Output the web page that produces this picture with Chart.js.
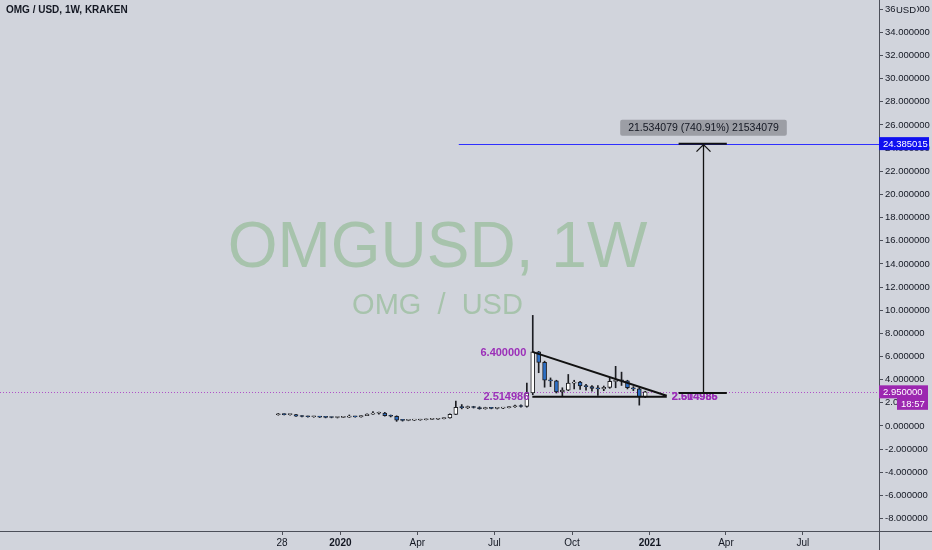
<!DOCTYPE html>
<html>
<head>
<meta charset="utf-8">
<title>OMG / USD, 1W, KRAKEN</title>
<script src="https://cdn.jsdelivr.net/npm/chart.js@4.4.1/dist/chart.umd.min.js"></script>
<style>
  html, body { margin: 0; padding: 0; background: #d1d4dc; }
  #wrap { width: 932px; height: 550px; }
</style>
</head>
<body>
<div id="wrap"><canvas id="omgChart" width="932" height="550"></canvas></div>
<script>
// weekly bars, OMG/USD on Kraken
const weeks = [
  "2019-10-21", "2019-10-28", "2019-11-04", "2019-11-11", "2019-11-18", "2019-11-25", "2019-12-02",
  "2019-12-09", "2019-12-16", "2019-12-23", "2019-12-30", "2020-01-06", "2020-01-13", "2020-01-20",
  "2020-01-27", "2020-02-03", "2020-02-10", "2020-02-17", "2020-02-24", "2020-03-02", "2020-03-09",
  "2020-03-16", "2020-03-23", "2020-03-30", "2020-04-06", "2020-04-13", "2020-04-20", "2020-04-27",
  "2020-05-04", "2020-05-11", "2020-05-18", "2020-05-25", "2020-06-01", "2020-06-08", "2020-06-15",
  "2020-06-22", "2020-06-29", "2020-07-06", "2020-07-13", "2020-07-20", "2020-07-27", "2020-08-03",
  "2020-08-10", "2020-08-17", "2020-08-24", "2020-08-31", "2020-09-07", "2020-09-14", "2020-09-21",
  "2020-09-28", "2020-10-05", "2020-10-12", "2020-10-19", "2020-10-26", "2020-11-02", "2020-11-09",
  "2020-11-16", "2020-11-23", "2020-11-30", "2020-12-07", "2020-12-14", "2020-12-21", "2020-12-28",
];
const opens = [
  0.97, 1.00, 0.98, 0.99, 0.85, 0.82, 0.80, 0.81, 0.76, 0.74, 0.73, 0.74, 0.76, 0.80,
  0.79, 0.90, 1.03, 1.10, 1.12, 0.88, 0.84, 0.50, 0.48, 0.50, 0.52, 0.54, 0.57, 0.58,
  0.63, 0.70, 1.00, 1.62, 1.58, 1.65, 1.60, 1.50, 1.54, 1.52, 1.54, 1.58, 1.66, 1.72,
  1.68, 2.85, 6.40, 5.50, 3.95, 3.90, 2.95, 3.10, 3.70, 3.80, 3.45, 3.40, 3.25, 3.20,
  3.33, 3.85, 3.95, 3.90, 3.30, 3.20, 2.50,
];
const highs = [
  1.08, 1.06, 1.03, 1.01, 0.89, 0.86, 0.84, 0.83, 0.80, 0.78, 0.76, 0.80, 0.95, 0.84,
  0.92, 1.06, 1.25, 1.20, 1.18, 0.95, 0.88, 0.56, 0.53, 0.54, 0.58, 0.60, 0.62, 0.66,
  0.72, 1.05, 2.15, 1.85, 1.72, 1.70, 1.66, 1.62, 1.60, 1.58, 1.62, 1.70, 1.80, 1.82,
  3.70, 9.55, 6.45, 5.60, 4.15, 3.95, 3.30, 4.45, 3.95, 3.85, 3.60, 3.50, 3.50, 3.45,
  4.20, 5.15, 4.65, 3.95, 3.40, 3.30, 3.00,
];
const lows = [
  0.93, 0.95, 0.93, 0.82, 0.79, 0.76, 0.75, 0.73, 0.70, 0.70, 0.69, 0.72, 0.74, 0.76,
  0.77, 0.88, 1.00, 1.02, 0.85, 0.78, 0.40, 0.42, 0.45, 0.47, 0.49, 0.52, 0.54, 0.56,
  0.60, 0.68, 0.98, 1.48, 1.50, 1.55, 1.45, 1.45, 1.48, 1.47, 1.50, 1.55, 1.60, 1.62,
  1.62, 2.70, 4.60, 3.35, 3.40, 2.85, 2.60, 3.05, 3.20, 3.15, 3.10, 3.00, 2.65, 3.05,
  3.25, 3.30, 3.50, 3.20, 3.05, 1.80, 2.45,
];
const closes = [
  1.00, 0.98, 0.99, 0.85, 0.82, 0.80, 0.81, 0.76, 0.74, 0.73, 0.74, 0.76, 0.80, 0.79,
  0.90, 1.03, 1.10, 1.12, 0.88, 0.84, 0.50, 0.48, 0.50, 0.52, 0.54, 0.57, 0.58, 0.63,
  0.70, 1.00, 1.62, 1.58, 1.65, 1.60, 1.50, 1.54, 1.52, 1.54, 1.58, 1.66, 1.72, 1.68,
  2.85, 6.40, 5.50, 3.95, 3.90, 2.95, 3.10, 3.70, 3.80, 3.45, 3.40, 3.25, 3.20, 3.33,
  3.85, 3.95, 3.90, 3.30, 3.20, 2.50, 2.95,
];

// axes (x in days from 2020-01-01)
const xMinDay = -402.6;
const xMaxDay = 637.0;
const xTickDays = [-69, 0, 91, 182, 274, 366, 456, 547];
const xTickLabels = ["28", "2020", "Apr", "Jul", "Oct", "2021", "Apr", "Jul"];
const yMin = -9.07;
const yMax = 36.79;
const yTicks = [-8, -6, -4, -2, 0, 2, 4, 6, 8, 10, 12, 14, 16, 18, 20, 22, 24, 26, 28, 30, 32, 34, 36];

// drawings
const lastPrice = 2.95;
const countdown = "18:57";
const targetPrice = 24.385015;
const targetFrom = "2020-05-20";
const triangleStart = "2020-08-15";
const triangleApex = "2021-01-21";
const triangleTop = 6.4;
const triangleBase = 2.514986;
const triangleApexTop = 2.604985;
const rangeDay = "2021-03-05";
const rangeFrom = "2021-02-04";
const rangeTo = "2021-04-02";
const rangeLow = 2.850936;
const rangeHigh = 24.385015;
const rangeText = "21.534079 (740.91%) 21534079";

const FONT = '"Liberation Sans", Arial, sans-serif';
const BG = "#d1d4dc";
const TEXT = "#131722";
const PURPLE = "#9b2fb8";

const DAY0 = Date.UTC(2020, 0, 1);
function dayOf(s) {
  return (Date.parse(s + "T00:00:00Z") - DAY0) / 86400000;
}

// bars sit a little left of the week start, as on the source chart
const xs = weeks.map((w) => dayOf(w) - 1.5);
const bodies = xs.map((x, i) => ({ x, y: [opens[i], closes[i]] }));
const wicks = xs.map((x, i) => ({ x, y: [lows[i], highs[i]] }));

function axisBox(ctx, text, x, yc, w, h, fill, font) {
  ctx.fillStyle = fill;
  ctx.fillRect(x, yc - h / 2, w, h);
  ctx.fillStyle = "#ffffff";
  ctx.font = font;
  ctx.textAlign = "left";
  ctx.textBaseline = "middle";
  ctx.fillText(text, x + 4, yc + 0.5);
}

const drawings = {
  id: "drawings",
  beforeDraw(chart) {
    const { ctx, width, height } = chart;
    ctx.save();
    ctx.fillStyle = BG;
    ctx.fillRect(0, 0, width, height);
    ctx.restore();
  },
  beforeDatasetsDraw(chart) {
    const { ctx, chartArea: a, scales } = chart;
    const cx = (a.left + a.right) / 2 - 2;
    ctx.save();
    ctx.fillStyle = "#a7c3ac";
    ctx.textAlign = "center";
    ctx.textBaseline = "middle";
    ctx.font = "64px " + FONT;
    ctx.fillText("OMGUSD, 1W", cx, a.top + 249);
    ctx.font = "29px " + FONT;
    ctx.fillText("OMG  /  USD", cx, a.top + 306);

    const py = Math.round(scales.y.getPixelForValue(lastPrice)) + 0.5;
    ctx.strokeStyle = "#b050c8";
    ctx.lineWidth = 1;
    ctx.setLineDash([1, 2]);
    ctx.beginPath();
    ctx.moveTo(a.left, py);
    ctx.lineTo(a.right, py);
    ctx.stroke();
    ctx.restore();
  },
  afterDatasetsDraw(chart) {
    const { ctx, chartArea: a, scales: { x, y } } = chart;
    ctx.save();
    ctx.beginPath();
    ctx.rect(a.left, a.top, a.right - a.left, a.bottom - a.top);
    ctx.clip();

    // descending triangle
    const tx0 = x.getPixelForValue(dayOf(triangleStart));
    const tx1 = x.getPixelForValue(dayOf(triangleApex));
    const yTop = y.getPixelForValue(triangleTop);
    const yBase = y.getPixelForValue(triangleBase);
    const yApex = y.getPixelForValue(triangleApexTop);
    ctx.strokeStyle = "#111111";
    ctx.lineWidth = 2;
    ctx.beginPath();
    ctx.moveTo(tx0, yTop);
    ctx.lineTo(tx1, yApex);
    ctx.moveTo(tx0, yBase);
    ctx.lineTo(tx1, yBase);
    ctx.stroke();

    ctx.fillStyle = PURPLE;
    ctx.font = "bold 11px " + FONT;
    ctx.textBaseline = "middle";
    ctx.textAlign = "right";
    ctx.fillText(triangleTop.toFixed(6), tx0 - 6, yTop + 1);
    ctx.fillText(triangleBase.toFixed(6), tx0 - 3, yBase);
    ctx.textAlign = "left";
    ctx.fillText(triangleBase.toFixed(6), tx1 + 5, yBase);
    ctx.fillText(triangleApexTop.toFixed(6), tx1 + 5, yBase);

    // target line
    const ty = Math.round(y.getPixelForValue(targetPrice)) + 0.5;
    ctx.strokeStyle = "#2f2fff";
    ctx.lineWidth = 1.2;
    ctx.beginPath();
    ctx.moveTo(x.getPixelForValue(dayOf(targetFrom)), ty);
    ctx.lineTo(a.right, ty);
    ctx.stroke();

    // price range tool
    const rx = Math.round(x.getPixelForValue(dayOf(rangeDay))) + 0.5;
    const rxa = x.getPixelForValue(dayOf(rangeFrom));
    const rxb = x.getPixelForValue(dayOf(rangeTo));
    const ryTop = y.getPixelForValue(rangeHigh);
    const ryLow = y.getPixelForValue(rangeLow);
    ctx.strokeStyle = "#111111";
    ctx.lineWidth = 2;
    ctx.beginPath();
    ctx.moveTo(rxa, ryTop);
    ctx.lineTo(rxb, ryTop);
    ctx.moveTo(rxa, ryLow);
    ctx.lineTo(rxb, ryLow);
    ctx.stroke();
    ctx.lineWidth = 1.3;
    ctx.beginPath();
    ctx.moveTo(rx, ryLow);
    ctx.lineTo(rx, ryTop + 1);
    ctx.moveTo(rx - 7, ryTop + 8);
    ctx.lineTo(rx, ryTop + 1);
    ctx.lineTo(rx + 7, ryTop + 8);
    ctx.stroke();

    ctx.font = "10.5px " + FONT;
    const tw = ctx.measureText(rangeText).width + 16;
    ctx.fillStyle = "rgba(150,152,158,0.9)";
    ctx.beginPath();
    ctx.roundRect(rx - tw / 2, ryTop - 24, tw, 16, 2);
    ctx.fill();
    ctx.fillStyle = TEXT;
    ctx.textAlign = "center";
    ctx.fillText(rangeText, rx, ryTop - 15.5);
    ctx.restore();
  },
  afterDraw(chart) {
    const { ctx, chartArea: a, width, height, scales: { y } } = chart;
    ctx.save();
    // axis lines run through to the edges
    ctx.strokeStyle = "#4c4f59";
    ctx.lineWidth = 1;
    ctx.beginPath();
    ctx.moveTo(a.right + 0.5, 0);
    ctx.lineTo(a.right + 0.5, height);
    ctx.moveTo(0, a.bottom + 0.5);
    ctx.lineTo(width, a.bottom + 0.5);
    ctx.stroke();

    // price labels on the scale
    const lf = "9.5px " + FONT;
    axisBox(ctx, targetPrice.toFixed(6), a.right, y.getPixelForValue(targetPrice), 50, 13, "#0f0ff0", lf);
    const py = y.getPixelForValue(lastPrice);
    axisBox(ctx, lastPrice.toFixed(6), a.right, py, 49, 13, "#9c27b0", lf);
    axisBox(ctx, countdown, a.right + 18, py + 12, 31, 12, "#9c27b0", lf);

    // currency tag over the top tick
    const uy = y.getPixelForValue(yTicks[yTicks.length - 1]);
    ctx.fillStyle = BG;
    ctx.fillRect(a.right + 16, uy - 6, 22, 13);
    ctx.fillStyle = TEXT;
    ctx.font = "9.5px " + FONT;
    ctx.textAlign = "left";
    ctx.textBaseline = "middle";
    ctx.fillText("USD", a.right + 17, uy + 1.5);

    // legend title
    ctx.font = "bold 10px " + FONT;
    ctx.fillText("OMG / USD, 1W, KRAKEN", 6, 10);
    ctx.restore();
  },
};

const ctx = document.getElementById("omgChart").getContext("2d");
new Chart(ctx, {
  type: "bar",
  data: {
    datasets: [
      {
        label: "Body",
        data: bodies,
        order: 0,
        grouped: false,
        barThickness: 4,
        maxBarThickness: 4,
        minBarLength: 1,
        backgroundColor: (c) => (closes[c.dataIndex] >= opens[c.dataIndex] ? "#ffffff" : "#2c6fc6"),
        borderColor: "#1c1d22",
        borderWidth: 1,
        borderSkipped: false,
      },
      {
        label: "Wick",
        data: wicks,
        order: 1,
        grouped: false,
        barThickness: 1,
        maxBarThickness: 1,
        backgroundColor: "#1c1d22",
        borderWidth: 0,
      },
    ],
  },
  options: {
    responsive: false,
    animation: false,
    layout: { padding: 0 },
    plugins: { legend: { display: false }, tooltip: { enabled: false } },
    scales: {
      x: {
        type: "linear",
        min: xMinDay,
        max: xMaxDay,
        offset: false,
        grid: { offset: false, drawOnChartArea: false, drawTicks: true, tickLength: 4, color: "#4c4f59" },
        border: { color: "#4c4f59" },
        afterBuildTicks: (s) => {
          s.ticks = xTickDays.map((v) => ({ value: v }));
        },
        afterFit: (s) => {
          s.height = 19;
          s.paddingLeft = 0;
          s.paddingRight = 0;
        },
        ticks: {
          autoSkip: false,
          maxRotation: 0,
          padding: 2,
          color: TEXT,
          font: (c) => ({ family: FONT, size: 10, weight: /^\d{4}$/.test(c.tick && c.tick.label) ? "bold" : "normal" }),
          callback: (v, i) => xTickLabels[i],
        },
      },
      y: {
        position: "right",
        min: yMin,
        max: yMax,
        grid: { offset: false, drawOnChartArea: false, drawTicks: true, tickLength: 4, color: "#4c4f59" },
        border: { color: "#4c4f59" },
        afterBuildTicks: (s) => {
          s.ticks = yTicks.map((v) => ({ value: v }));
        },
        afterFit: (s) => {
          s.width = 53;
          s.paddingTop = 0;
          s.paddingBottom = 0;
        },
        ticks: {
          crossAlign: "near",
          padding: 2,
          color: TEXT,
          font: { family: FONT, size: 9.5 },
          callback: (v) => Number(v).toFixed(6),
        },
      },
    },
  },
  plugins: [drawings],
});
</script>
</body>
</html>
